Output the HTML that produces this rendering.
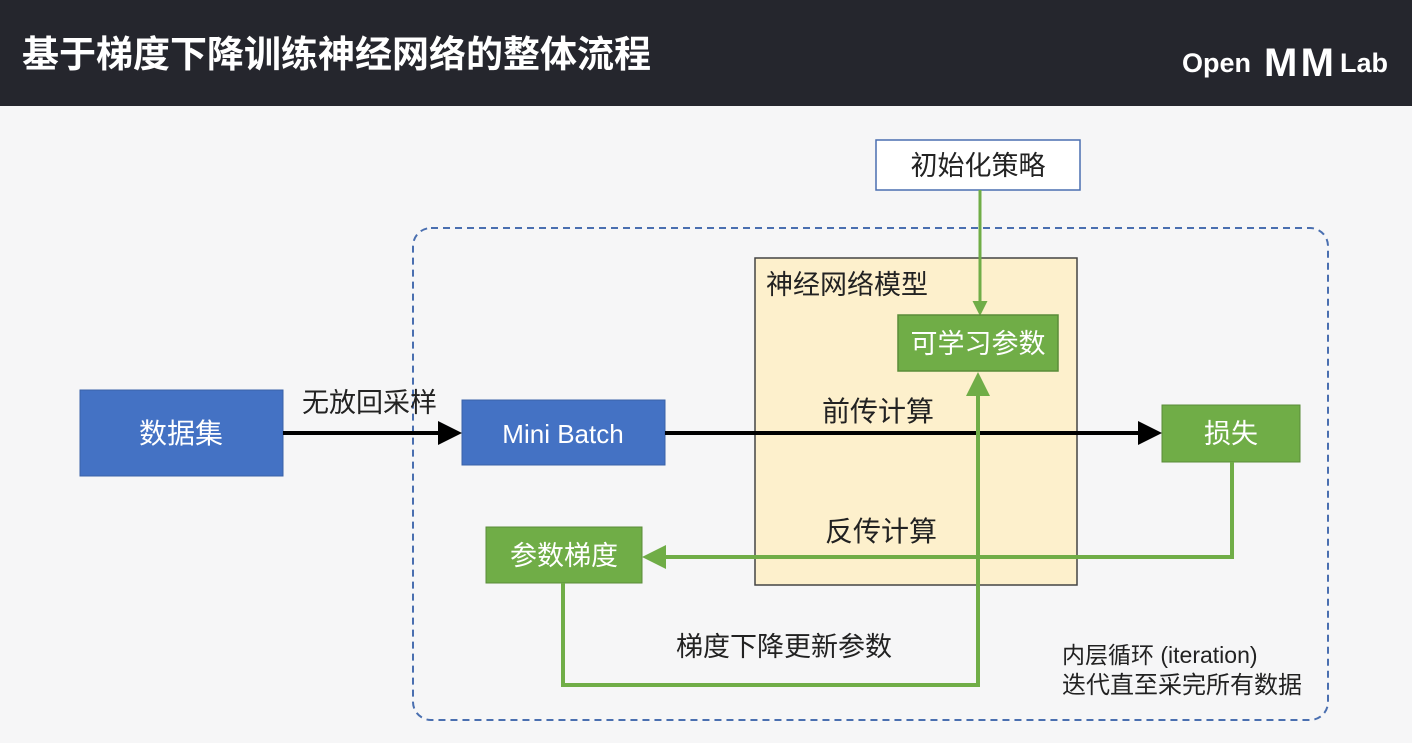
<!DOCTYPE html>
<html><head><meta charset="utf-8"><style>
html,body{margin:0;padding:0;}
body{width:1412px;height:738px;overflow:hidden;background:#f6f6f7;font-family:"Liberation Sans","Noto Sans CJK SC",sans-serif;}
</style></head><body>
<svg width="1412" height="738" xmlns="http://www.w3.org/2000/svg" font-family="Liberation Sans, Noto Sans CJK SC, sans-serif">
<defs>
<marker id="ab" markerWidth="6" markerHeight="6" refX="5" refY="3" orient="auto" markerUnits="strokeWidth"><path d="M0,0 L6,3 L0,6 z" fill="#000"/></marker>
<marker id="ag" markerWidth="5" markerHeight="5" refX="4" refY="2.5" orient="auto" markerUnits="strokeWidth"><path d="M0,0 L5,2.5 L0,5 z" fill="#70ad47"/></marker>
<marker id="ag2" markerWidth="6" markerHeight="6" refX="5" refY="3" orient="auto" markerUnits="strokeWidth"><path d="M0,0 L6,3 L0,6 z" fill="#70ad47"/></marker>
</defs>
<rect x="0" y="0" width="1412" height="106" fill="#25262d"/>
<text x="22" y="67" font-size="37" font-weight="bold" fill="#fff">基于梯度下降训练神经网络的整体流程</text>
<text x="1182" y="72" font-size="27" font-weight="bold" fill="#fff">Open</text>
<text x="1264" y="76" font-size="40" font-weight="bold" fill="#fff" textLength="70">MM</text>
<text x="1340" y="72" font-size="27" font-weight="bold" fill="#fff">Lab</text>
<rect x="413" y="228" width="915" height="492" rx="18" fill="none" stroke="#4a6fb0" stroke-width="2" stroke-dasharray="7,5"/>
<rect x="876" y="140" width="204" height="50" fill="#fff" stroke="#4a6fb0" stroke-width="1.5"/>
<text x="978" y="175" font-size="27" text-anchor="middle" fill="#222">初始化策略</text>
<rect x="755" y="258" width="322" height="327" fill="#fdf0cc" stroke="#444" stroke-width="1.5"/>
<text x="766" y="294" font-size="27" fill="#222">神经网络模型</text>
<line x1="980" y1="190" x2="980" y2="313" stroke="#70ad47" stroke-width="3" marker-end="url(#ag)"/>
<rect x="898" y="315" width="160" height="56" fill="#70ad47" stroke="#5a8c38" stroke-width="1.5"/>
<text x="978" y="353" font-size="27" text-anchor="middle" fill="#fff">可学习参数</text>
<rect x="80" y="390" width="203" height="86" fill="#4472c4" stroke="#3a62a8"/>
<text x="181" y="443" font-size="28" text-anchor="middle" fill="#fff">数据集</text>
<rect x="462" y="400" width="203" height="65" fill="#4472c4" stroke="#3a62a8"/>
<text x="563" y="443" font-size="26" text-anchor="middle" fill="#fff">Mini Batch</text>
<rect x="1162" y="405" width="138" height="57" fill="#70ad47" stroke="#5a8c38"/>
<text x="1231" y="443" font-size="27" text-anchor="middle" fill="#fff">损失</text>
<rect x="486" y="527" width="156" height="56" fill="#70ad47" stroke="#5a8c38"/>
<text x="564" y="565" font-size="27" text-anchor="middle" fill="#fff">参数梯度</text>
<line x1="283" y1="433" x2="458" y2="433" stroke="#000" stroke-width="4" marker-end="url(#ab)"/>
<line x1="665" y1="433" x2="1158" y2="433" stroke="#000" stroke-width="4" marker-end="url(#ab)"/>
<text x="302" y="412" font-size="27" fill="#222">无放回采样</text>
<text x="822" y="421" font-size="28" fill="#222">前传计算</text>
<polyline points="1232,462 1232,557 646,557" fill="none" stroke="#70ad47" stroke-width="4" marker-end="url(#ag2)"/>
<polyline points="563,583 563,685 978,685 978,376" fill="none" stroke="#70ad47" stroke-width="4" marker-end="url(#ag2)"/>
<text x="825" y="541" font-size="28" fill="#222">反传计算</text>
<text x="676" y="656" font-size="27" fill="#222">梯度下降更新参数</text>
<text x="1062" y="663" font-size="23" fill="#222">内层循环 (iteration)</text>
<text x="1062" y="693" font-size="24" fill="#222">迭代直至采完所有数据</text>
</svg>
</body></html>
